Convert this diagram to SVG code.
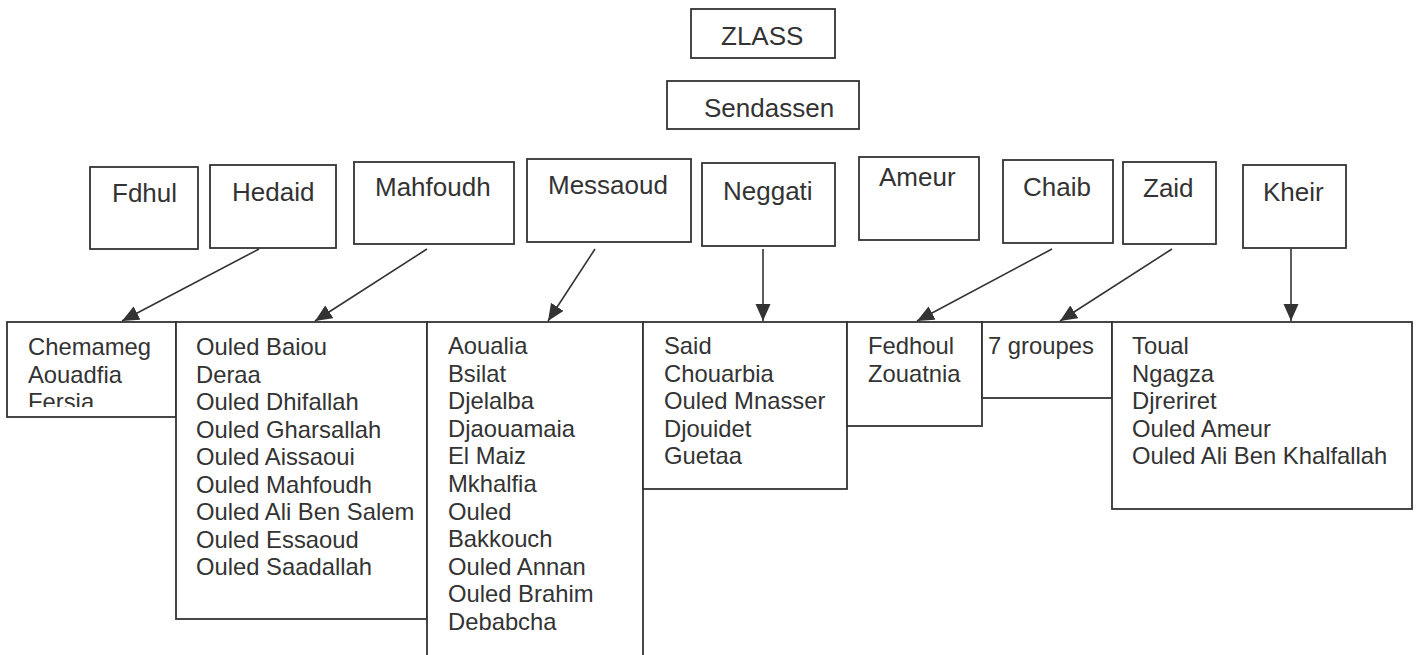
<svg xmlns="http://www.w3.org/2000/svg" width="1420" height="655" viewBox="0 0 1420 655">
<style>
rect.b{fill:#fff;stroke:#333;stroke-width:1.8}
text{font-family:"Liberation Sans",Arial,sans-serif;fill:#333}
text.h{font-size:26px}
text.l{font-size:23.8px}
.c line{stroke:#333;stroke-width:1.6;marker-end:url(#ah)}
</style>
<defs>
<marker id="ah" markerUnits="userSpaceOnUse" markerWidth="18" markerHeight="16" refX="17" refY="7.5" orient="auto">
<path d="M0,0 L17,7.5 L0,15 z" fill="#333"/>
</marker>
<clipPath id="cp1"><rect x="7" y="322" width="169" height="85"/></clipPath>
</defs>
<rect width="1420" height="655" fill="#fff"/>

<g id="zlass"><rect class="b" x="691" y="9" width="144" height="49"/><text class="h" x="721" y="45">ZLASS</text></g>
<g id="sendassen"><rect class="b" x="667" y="81" width="192" height="48"/><text class="h" x="704" y="117">Sendassen</text></g>

<g id="fdhul"><rect class="b" x="90" y="167" width="108" height="82"/><text class="h" x="112" y="202">Fdhul</text></g>
<g id="hedaid"><rect class="b" x="210" y="165" width="126" height="83"/><text class="h" x="232" y="201">Hedaid</text></g>
<g id="mahfoudh"><rect class="b" x="354" y="162" width="160" height="82"/><text class="h" x="375" y="196">Mahfoudh</text></g>
<g id="messaoud"><rect class="b" x="527" y="159" width="164" height="83"/><text class="h" x="548" y="194">Messaoud</text></g>
<g id="neggati"><rect class="b" x="702" y="163" width="133" height="83"/><text class="h" x="723" y="200">Neggati</text></g>
<g id="ameur"><rect class="b" x="859" y="157" width="120" height="83"/><text class="h" x="879" y="186">Ameur</text></g>
<g id="chaib"><rect class="b" x="1003" y="160" width="110" height="83"/><text class="h" x="1023" y="196">Chaib</text></g>
<g id="zaid"><rect class="b" x="1123" y="162" width="93" height="82"/><text class="h" x="1143" y="197">Zaid</text></g>
<g id="kheir"><rect class="b" x="1243" y="165" width="103" height="83"/><text class="h" x="1263" y="201">Kheir</text></g>

<g id="list-hedaid"><rect class="b" x="7" y="322" width="169" height="95"/>
<text class="l" x="28" clip-path="url(#cp1)"><tspan x="28" y="355">Chemameg</tspan><tspan x="28" y="382.5">Aouadfia</tspan><tspan x="28" y="410">Fersia</tspan></text></g>

<g id="list-mahfoudh"><rect class="b" x="176" y="322" width="251" height="297"/>
<text class="l"><tspan x="196" y="355">Ouled Baiou</tspan><tspan x="196" y="382.5">Deraa</tspan><tspan x="196" y="410">Ouled Dhifallah</tspan><tspan x="196" y="437.5">Ouled Gharsallah</tspan><tspan x="196" y="465">Ouled Aissaoui</tspan><tspan x="196" y="492.5">Ouled Mahfoudh</tspan><tspan x="196" y="520">Ouled Ali Ben Salem</tspan><tspan x="196" y="547.5">Ouled Essaoud</tspan><tspan x="196" y="575">Ouled Saadallah</tspan></text></g>

<g id="list-messaoud"><rect class="b" x="427" y="322" width="216" height="360"/>
<text class="l"><tspan x="448" y="354">Aoualia</tspan><tspan x="448" y="381.6">Bsilat</tspan><tspan x="448" y="409.2">Djelalba</tspan><tspan x="448" y="436.8">Djaouamaia</tspan><tspan x="448" y="464.4">El Maiz</tspan><tspan x="448" y="492">Mkhalfia</tspan><tspan x="448" y="519.6">Ouled</tspan><tspan x="448" y="547.2">Bakkouch</tspan><tspan x="448" y="574.8">Ouled Annan</tspan><tspan x="448" y="602.4">Ouled Brahim</tspan><tspan x="448" y="630">Debabcha</tspan></text></g>

<g id="list-neggati"><rect class="b" x="643" y="322" width="204" height="167"/>
<text class="l"><tspan x="664" y="354">Said</tspan><tspan x="664" y="381.5">Chouarbia</tspan><tspan x="664" y="409">Ouled Mnasser</tspan><tspan x="664" y="436.5">Djouidet</tspan><tspan x="664" y="464">Guetaa</tspan></text></g>

<g id="list-chaib"><rect class="b" x="847" y="322" width="135" height="104"/>
<text class="l"><tspan x="868" y="354">Fedhoul</tspan><tspan x="868" y="381.5">Zouatnia</tspan></text></g>

<g id="list-zaid"><rect class="b" x="982" y="322" width="130" height="76"/>
<text class="l" x="988" y="354">7 groupes</text></g>

<g id="list-kheir"><rect class="b" x="1112" y="322" width="300" height="187"/>
<text class="l"><tspan x="1132" y="354">Toual</tspan><tspan x="1132" y="381.5">Ngagza</tspan><tspan x="1132" y="409">Djreriret</tspan><tspan x="1132" y="436.5">Ouled Ameur</tspan><tspan x="1132" y="464">Ouled Ali Ben Khalfallah</tspan></text></g>

<g id="connectors" class="c">
<line x1="259" y1="249" x2="122" y2="321"/>
<line x1="427" y1="249" x2="315" y2="321"/>
<line x1="595" y1="249" x2="548" y2="321"/>
<line x1="763" y1="249" x2="763" y2="321"/>
<line x1="1052" y1="249" x2="917" y2="321"/>
<line x1="1172" y1="249" x2="1060" y2="321"/>
<line x1="1291" y1="249" x2="1291" y2="321"/>
</g>
</svg>
